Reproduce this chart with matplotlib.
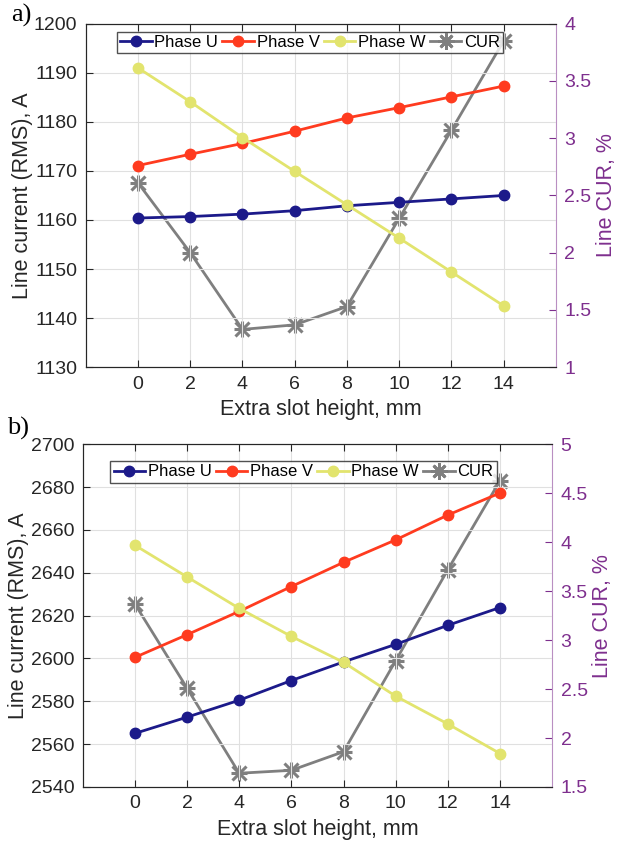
import numpy as np
import matplotlib.pyplot as plt

plt.rcParams['font.family'] = ['Liberation Sans', 'DejaVu Sans']

# extra slot height, mm
height = [0, 2, 4, 6, 8, 10, 12, 14]

# a) line currents (A) and CUR (%)
a_phase_u = [1160.4, 1160.7, 1161.2, 1161.9, 1162.9, 1163.6, 1164.3, 1165.0]
a_phase_v = [1171.1, 1173.4, 1175.6, 1178.1, 1180.8, 1182.9, 1185.1, 1187.3]
a_phase_w = [1191.0, 1184.1, 1176.8, 1169.9, 1163.1, 1156.3, 1149.4, 1142.5]
a_cur = [2.61, 2.00, 1.33, 1.37, 1.53, 2.30, 3.07, 3.85]

# b)
b_phase_u = [2565.0, 2572.6, 2580.5, 2589.7, 2598.4, 2606.6, 2615.5, 2623.8]
b_phase_v = [2600.5, 2611.1, 2622.0, 2633.6, 2644.9, 2655.4, 2667.0, 2677.3]
b_phase_w = [2652.9, 2638.1, 2623.4, 2610.3, 2598.2, 2582.4, 2569.4, 2555.6]
b_cur = [3.37, 2.51, 1.64, 1.67, 1.86, 2.79, 3.72, 4.63]

C_U = '#1c1a8a'
C_V = '#ff3b1f'
C_W = '#e2e46e'
C_CUR = '#7f7f7f'
PURPLE = '#7e2f8e'
DARK = '#262626'


def panel(ax, u, v, w, cur, ylim, yticks, rlim, rticks, leg_x, leg_y):
    ax2 = ax.twinx()
    ax.set_zorder(ax2.get_zorder() + 1)
    ax.patch.set_visible(False)
    l1, = ax.plot(height, u, '-o', color=C_U, lw=2.0, ms=7.5, label='Phase U')
    l2, = ax.plot(height, v, '-o', color=C_V, lw=2.0, ms=7.5, label='Phase V')
    l3, = ax.plot(height, w, '-o', color=C_W, lw=2.0, ms=7.5, label='Phase W')
    # CUR: line with an 8-spoke asterisk (plus + cross)
    ax2.plot(height, cur, '-', color=C_CUR, lw=2.0)
    ax2.plot(height, cur, ls='none', marker='+', color=C_CUR, ms=12, mew=2.2)
    ax2.plot(height, cur, ls='none', marker='x', color=C_CUR, ms=10, mew=2.2)
    lc, = ax.plot([], [], '-', color=C_CUR, lw=2.0, marker=(8, 2, 0),
                  ms=12, mew=2.0, label='CUR')

    ax.set_xlim(-2, 16)
    ax.set_xticks(height)
    ax.set_ylim(*ylim)
    ax.set_yticks(yticks)
    ax2.set_ylim(*rlim)
    ax2.set_yticks(rticks)
    ax2.set_yticklabels([f'{t:g}' for t in rticks])

    ax.grid(True, color='#e0e0e0', lw=0.8)
    ax.tick_params(direction='in', length=5, labelsize=14, colors=DARK,
                   top=True, pad=6)
    ax2.tick_params(direction='in', length=5, labelsize=14, colors=PURPLE,
                    pad=6)
    for s in ['left', 'bottom', 'top']:
        ax.spines[s].set_color(DARK)
        ax2.spines[s].set_color(DARK)
    ax.spines['right'].set_visible(False)
    ax2.spines['right'].set_color('#b98fc2')

    ax.set_xlabel('Extra slot height, mm', fontsize=15.5, color=DARK,
                  labelpad=5)
    ax.set_ylabel('Line current (RMS), A', fontsize=15.5, color=DARK,
                  labelpad=1)
    ax2.set_ylabel('Line CUR, %', fontsize=15.5, color=PURPLE, labelpad=3)

    leg = ax.legend(handles=[l1, l2, l3, lc], loc='upper center',
                    bbox_to_anchor=(leg_x, leg_y), ncol=4, fontsize=12,
                    frameon=True, fancybox=False, handlelength=1.9,
                    handletextpad=0.15, columnspacing=0.25,
                    borderpad=0.2, borderaxespad=0.0)
    leg.get_frame().set_edgecolor(DARK)
    leg.get_frame().set_linewidth(1.0)
    return ax2


fig = plt.figure(figsize=(6.17, 8.48), dpi=100)
ax_a = fig.add_axes([0.139, 0.567, 0.762, 0.405])
ax_b = fig.add_axes([0.134, 0.072, 0.761, 0.404])

panel(ax_a, a_phase_u, a_phase_v, a_phase_w, a_cur,
      (1130, 1200), np.arange(1130, 1201, 10),
      (1, 4), [1, 1.5, 2, 2.5, 3, 3.5, 4], 0.477, 0.977)
panel(ax_b, b_phase_u, b_phase_v, b_phase_w, b_cur,
      (2540, 2700), np.arange(2540, 2701, 20),
      (1.5, 5), [1.5, 2, 2.5, 3, 3.5, 4, 4.5, 5], 0.47, 0.951)

fig.text(0.018, 0.982, 'a)', fontsize=19, family='Liberation Serif',
         va='center', ha='left')
fig.text(0.012, 0.495, 'b)', fontsize=19, family='Liberation Serif',
         va='center', ha='left')

fig.savefig('out.png', dpi=100)
